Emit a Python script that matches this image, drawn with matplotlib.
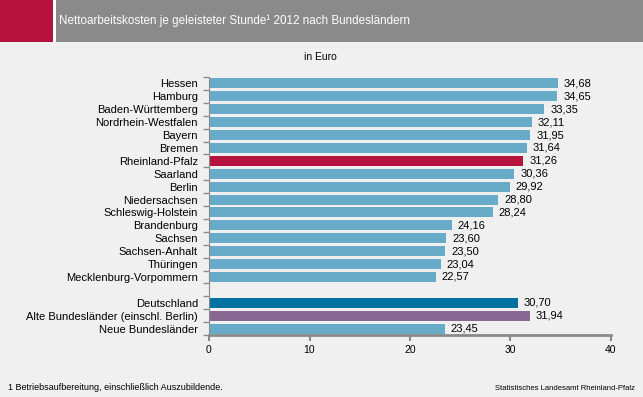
import matplotlib.pyplot as plt
import numpy as np
from matplotlib.patches import Rectangle

plt.rcParams['font.family'] = ['Liberation Sans', 'DejaVu Sans']

laender = ["Hessen", "Hamburg", "Baden-Württemberg", "Nordrhein-Westfalen", "Bayern",
           "Bremen", "Rheinland-Pfalz", "Saarland", "Berlin", "Niedersachsen",
           "Schleswig-Holstein", "Brandenburg", "Sachsen", "Sachsen-Anhalt",
           "Thüringen", "Mecklenburg-Vorpommern"]
werte = [34.68, 34.65, 33.35, 32.11, 31.95, 31.64, 31.26, 30.36, 29.92, 28.80,
         28.24, 24.16, 23.60, 23.50, 23.04, 22.57]
gruppen = ["Deutschland", "Alte Bundesländer (einschl. Berlin)", "Neue Bundesländer"]
gruppen_werte = [30.70, 31.94, 23.45]

blau = "#68abc9"
bg = "#eff0ef"
grau = "#8a8a8a"
farben_laender = ["#b5123e" if n == "Rheinland-Pfalz" else blau for n in laender]
farben_gruppen = ["#0071a1", "#8a6692", blau]

labels = laender + [""] + gruppen
vals = werte + [np.nan] + gruppen_werte
cols = farben_laender + [bg] + farben_gruppen
pos = np.arange(len(labels))

fig = plt.figure(figsize=(6.43, 3.97), dpi=100, facecolor=bg)

# header band
fig.patches.append(Rectangle((0, 1 - 42 / 397), 1, 42 / 397, transform=fig.transFigure,
                             facecolor=grau, edgecolor="none"))
fig.patches.append(Rectangle((0, 1 - 42 / 397), 53 / 643, 42 / 397, transform=fig.transFigure,
                             facecolor="#b5123e", edgecolor="none"))
fig.patches.append(Rectangle((53 / 643, 1 - 42 / 397), 3 / 643, 42 / 397, transform=fig.transFigure,
                             facecolor="white", edgecolor="none"))
fig.text(59 / 643, 1 - 21 / 397, "Nettoarbeitskosten je geleisteter Stunde¹ 2012 nach Bundesländern",
         color="white", fontsize=8.4, va="center", ha="left")
fig.text(320 / 643, 1 - 57 / 397, "in Euro", fontsize=7.5, ha="center", va="center")

ax = fig.add_axes([209 / 643, 1 - 335 / 397, (611 - 209) / 643, (335 - 77) / 397])
ax.set_facecolor(bg)
ax.barh(pos, np.nan_to_num(vals), height=0.78, color=cols)
for p, v in zip(pos, vals):
    if not np.isnan(v):
        ax.text(v + 0.6, p, f"{v:.2f}".replace(".", ","), va="center", ha="left", fontsize=8)

ax.set_xlim(0, 40)
ax.set_ylim(len(labels) - 0.5, -0.5)
ax.set_xticks([0, 10, 20, 30, 40])
ax.set_yticks(pos)
ax.set_yticklabels(labels, fontsize=8)
ax.set_yticks(np.arange(-0.5, len(labels), 1), minor=True)
ax.tick_params(axis="y", which="major", length=0, pad=8)
ax.tick_params(axis="y", which="minor", length=4, color=grau, width=1)
ax.tick_params(axis="x", length=4, color=grau, width=1.5, labelsize=7.5)
for s in ["top", "right"]:
    ax.spines[s].set_visible(False)
ax.spines["left"].set_color(grau)
ax.spines["bottom"].set_color(grau)
ax.spines["bottom"].set_linewidth(2)

fig.text(8 / 643, 1 - 388 / 397, "1 Betriebsaufbereitung, einschließlich Auszubildende.",
         fontsize=6.5, va="center", ha="left")
fig.text(635 / 643, 1 - 388 / 397, "Statistisches Landesamt Rheinland-Pfalz",
         fontsize=5.5, va="center", ha="right")

fig.savefig("out.png", dpi=100, facecolor=bg)
